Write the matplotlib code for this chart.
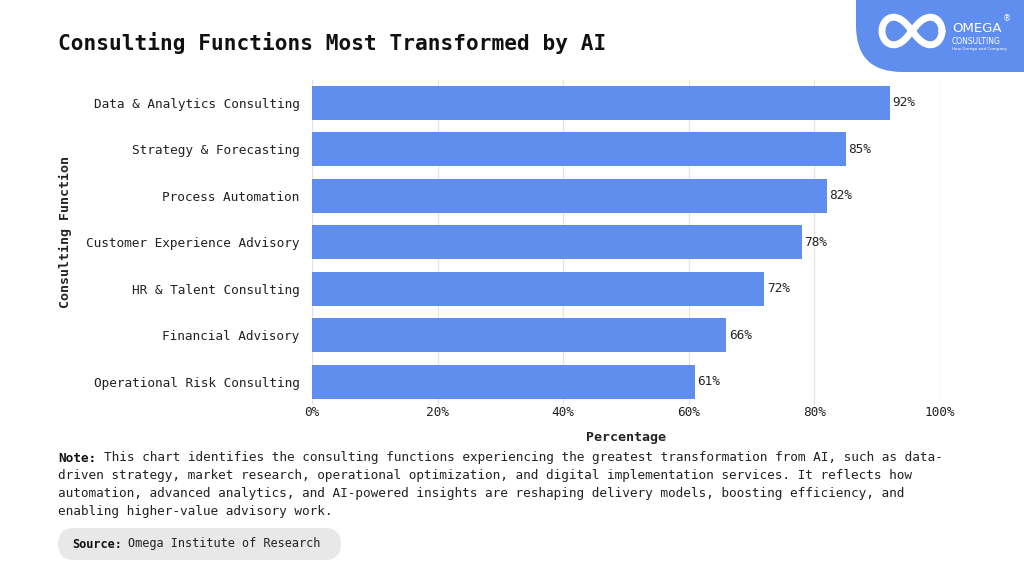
import matplotlib
matplotlib.use("Agg")
import matplotlib.pyplot as plt
from matplotlib.patches import FancyBboxPatch
import numpy as np

categories = ["Data & Analytics Consulting", "Strategy & Forecasting", "Process Automation",
              "Customer Experience Advisory", "HR & Talent Consulting", "Financial Advisory",
              "Operational Risk Consulting"]
values = [92, 85, 82, 78, 72, 66, 61]
xticks = [0, 20, 40, 60, 80, 100]
xtick_labels = ["0%", "20%", "40%", "60%", "80%", "100%"]

MONO = "DejaVu Sans Mono"
plt.rcParams['font.family'] = [MONO]
BAR = "#5F8EEF"
TXT = "#222222"

fig = plt.figure(figsize=(10.24, 5.76), dpi=100)
ax = fig.add_axes([312/1024, 1-405/576, 628/1024, 325.5/576])

y = np.arange(len(categories))
ax.barh(y, values, height=0.73, color=BAR, zorder=3)
ax.set_ylim(len(categories)-0.5, -0.5)
ax.set_xlim(0, 100)
ax.set_yticks(y)
ax.set_yticklabels(categories, fontsize=9.2, color=TXT)
ax.set_xticks(xticks)
ax.set_xticklabels(xtick_labels, fontsize=9.2, color=TXT)
ax.tick_params(axis='x', length=0, pad=1)
ax.tick_params(axis='y', length=0, pad=9)
ax.grid(axis='x', color="#e3e3e3", linewidth=0.9, zorder=0)
for s in ax.spines.values():
    s.set_visible(False)
for yi, v in zip(y, values):
    ax.text(v + 0.4, yi, f"{v}%", va='center', ha='left', fontsize=9.2, color=TXT)

ax.set_xlabel("Percentage", fontsize=9.5, fontweight='bold', color=TXT, labelpad=8)
fig.text(65/1024, 1-232/576, "Consulting Function", rotation=90, fontsize=9.5,
         fontweight='bold', color=TXT, ha='center', va='center')

fig.text(58/1024, 1-43/576, "Consulting Functions Most Transformed by AI", fontsize=15.2,
         fontweight='bold', color="#111111", ha='left', va='center')

# Logo
logo = FancyBboxPatch((856/1024, 1-72/576), 0.3, 0.3, boxstyle="round,pad=0,rounding_size=0.045",
                      transform=fig.transFigure, facecolor=BAR, edgecolor='none',
                      mutation_aspect=1024/576)
fig.patches.append(logo)
t = np.linspace(0, 2*np.pi, 300)
lx = 912/1024 + (30/1024)*np.cos(t)/(1+np.sin(t)**2)
ly = 1-31/576 + (30/576)*np.sin(t)*np.cos(t)/(1+np.sin(t)**2)*1.3
fig.add_artist(plt.Line2D(lx, ly, transform=fig.transFigure, color='white', linewidth=5,
                          solid_capstyle='round'))
fig.text(952/1024, 1-29/576, "OMEGA", fontsize=9.5, color='white', ha='left', va='center',
         family="DejaVu Sans")
fig.text(1003/1024, 1-19/576, "®", fontsize=6, color='white', ha='left', va='center',
         family="DejaVu Sans")
fig.text(952/1024, 1-41/576, "CONSULTING", fontsize=5.5, color='white', ha='left', va='center',
         family="DejaVu Sans")
fig.text(952/1024, 1-49/576, "How Omega and Company", fontsize=3, color='white', ha='left',
         va='center', family="DejaVu Sans")

# Note
note_lines = [
    "This chart identifies the consulting functions experiencing the greatest transformation from AI, such as data-",
    "driven strategy, market research, operational optimization, and digital implementation services. It reflects how",
    "automation, advanced analytics, and AI-powered insights are reshaping delivery models, boosting efficiency, and",
    "enabling higher-value advisory work.",
]
line_h = 17.7
y0 = 458
fs_note = 9.17
fig.text(58/1024, 1-y0/576, "Note:", fontsize=fs_note, fontweight='bold', color="#111111",
         ha='left', va='center')
fig.text(58/1024 + 6*7.6/1024, 1-y0/576, note_lines[0], fontsize=fs_note, color=TXT,
         ha='left', va='center')
for i, ln in enumerate(note_lines[1:], start=1):
    fig.text(58/1024, 1-(y0+i*line_h)/576, ln, fontsize=fs_note, color=TXT, ha='left', va='center')

# Source pill
pill = FancyBboxPatch((58/1024, 1-560/576), 283/1024, 32/576,
                      boxstyle="round,pad=0,rounding_size=0.016", transform=fig.transFigure,
                      facecolor="#e8e8e8", edgecolor='none', mutation_aspect=1024/576)
fig.patches.append(pill)
fig.text(72/1024, 1-544/576, "Source:", fontsize=8.6, fontweight='bold', color="#111111",
         ha='left', va='center')
fig.text(72/1024 + 8*7.0/1024, 1-544/576, "Omega Institute of Research", fontsize=8.6,
         color=TXT, ha='left', va='center')

fig.savefig("out.png", dpi=100)
